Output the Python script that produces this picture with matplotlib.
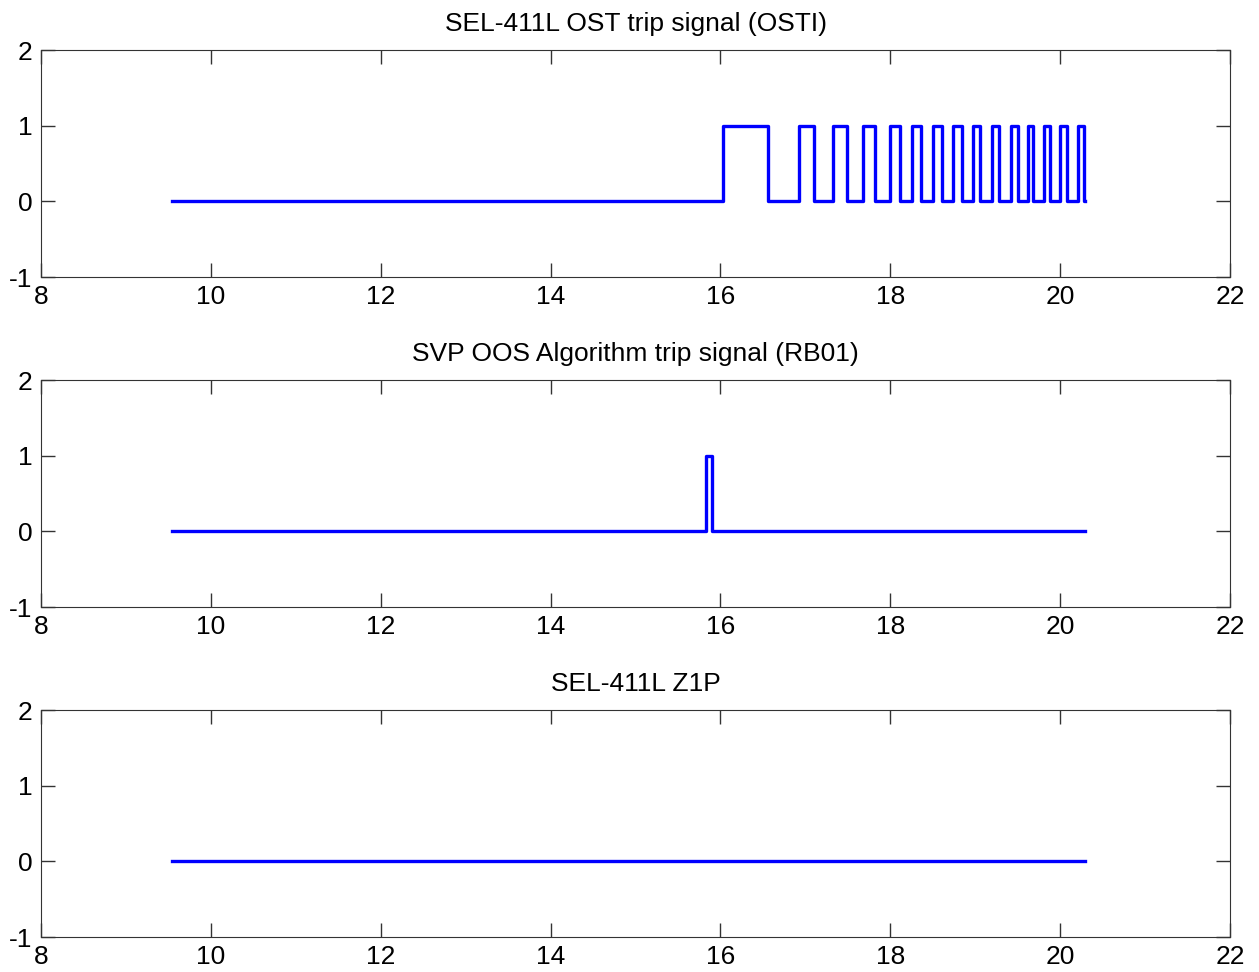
import numpy as np
import matplotlib.pyplot as plt

plt.rcParams['font.family'] = ['Liberation Sans', 'DejaVu Sans']
plt.rcParams['axes.unicode_minus'] = False

# time span of the recording (s)
t_start = 9.54
t_end = 20.29

# OSTI pulses: (rise, fall) times
osti_rise = [16.03, 16.92, 17.32, 17.68, 18.00, 18.26, 18.50, 18.74, 18.97, 19.20, 19.42, 19.62, 19.81, 20.00, 20.21]
osti_fall = [16.56, 17.10, 17.49, 17.82, 18.11, 18.36, 18.61, 18.84, 19.06, 19.28, 19.50, 19.68, 19.88, 20.08, 20.28]

# RB01 pulse
rb01_rise = [15.83]
rb01_fall = [15.90]

# Z1P never asserts
z1p_rise = []
z1p_fall = []

titles = ['SEL-411L OST trip signal (OSTI)',
          'SVP OOS Algorithm trip signal (RB01)',
          'SEL-411L Z1P']


def build_signal(rises, falls):
    # turn rise/fall times into a square wave
    x = [t_start]
    y = [0]
    for r, f in zip(rises, falls):
        x += [r, r, f, f]
        y += [0, 1, 1, 0]
    x.append(t_end)
    y.append(0)
    return x, y


signals = [(osti_rise, osti_fall), (rb01_rise, rb01_fall), (z1p_rise, z1p_fall)]

fig = plt.figure(figsize=(12.59, 9.72), dpi=100)
boxes = [[0.0326, 0.715, 0.9444, 0.2335],
         [0.0326, 0.3755, 0.9444, 0.2335],
         [0.0326, 0.036, 0.9444, 0.2335]]

for box, title, (rises, falls) in zip(boxes, titles, signals):
    ax = fig.add_axes(box)
    x, y = build_signal(rises, falls)
    ax.plot(x, y, color='#0000ff', linewidth=2.4)
    ax.set_xlim(8, 22)
    ax.set_ylim(-1, 2)
    ax.set_xticks([8, 10, 12, 14, 16, 18, 20, 22])
    ax.set_yticks([-1, 0, 1, 2])
    ax.tick_params(direction='in', length=10, width=1, top=True, right=True,
                   labelsize=19, colors='#333333', labelcolor='black', pad=6)
    for s in ax.spines.values():
        s.set_color('#333333')
    ax.set_title(title, fontsize=19, pad=14)

fig.savefig('out.png', dpi=100)
